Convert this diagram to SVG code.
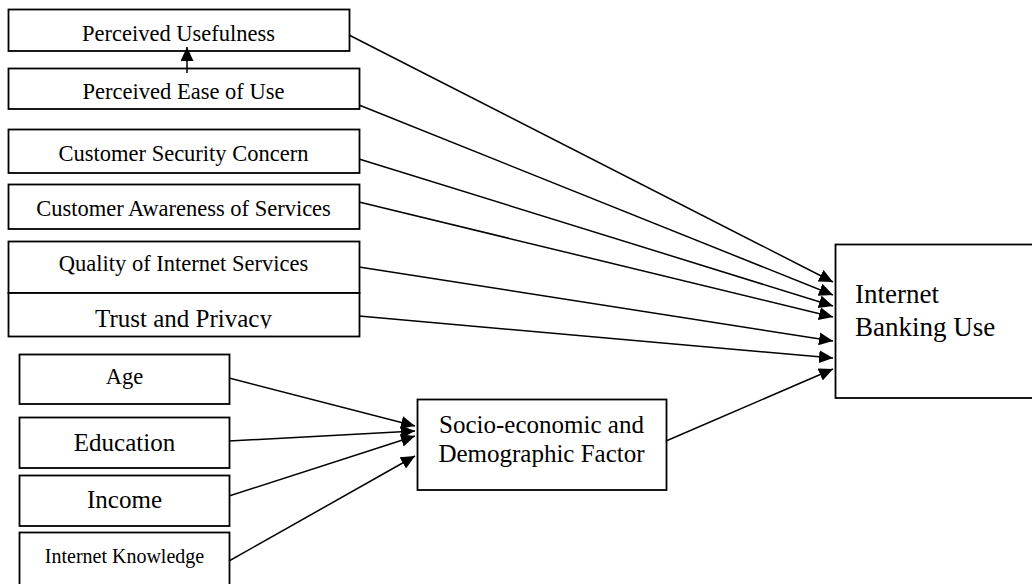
<svg xmlns="http://www.w3.org/2000/svg" width="1032" height="584" viewBox="0 0 1032 584">
  <style>
    .box { fill: #fff; stroke: #000; stroke-width: 1.8; }
    .lbl { font-family: "Liberation Serif", "Times New Roman", serif; fill: #000; text-anchor: middle; }
    .s22 { font-size: 22.5px; }
    .s25 { font-size: 25px; }
    .s20 { font-size: 20px; }
    .s27 { font-size: 27px; text-anchor: start; }
    .conn line { stroke: #000; stroke-width: 1.5; marker-end: url(#arrow); }
  </style>
  <defs>
    <marker id="arrow" viewBox="0 0 14 13" refX="14" refY="6.5" markerWidth="14" markerHeight="13" markerUnits="userSpaceOnUse" orient="auto">
      <path d="M0,0 L14,6.5 L0,13 z" fill="#000"/>
    </marker>
    <!-- the label frame cuts off the descender of the last word -->
    <clipPath id="trustClip"><rect x="8" y="293" width="351" height="35.5"/></clipPath>
  </defs>
  <rect width="1032" height="584" fill="#fff"/>

  <!-- factor boxes -->
  <g id="perceived-usefulness">
    <rect class="box" x="8.5" y="9.5" width="341" height="41.5"/>
    <text class="lbl s22" x="178.5" y="41">Perceived Usefulness</text>
  </g>
  <g id="perceived-ease-of-use">
    <rect class="box" x="8.5" y="68.5" width="351" height="40.5"/>
    <text class="lbl s22" x="183.5" y="99">Perceived Ease of Use</text>
  </g>
  <g id="customer-security-concern">
    <rect class="box" x="8.5" y="129.5" width="351" height="43.5"/>
    <text class="lbl s22" x="183.5" y="161">Customer Security Concern</text>
  </g>
  <g id="customer-awareness">
    <rect class="box" x="8.5" y="184.5" width="351" height="44.5"/>
    <text class="lbl s22" x="183.5" y="216">Customer Awareness of Services</text>
  </g>
  <g id="quality-of-internet-services">
    <rect class="box" x="8.5" y="241.5" width="351" height="51.5"/>
    <text class="lbl s22" x="183.5" y="271">Quality of Internet Services</text>
  </g>
  <g id="trust-and-privacy">
    <rect class="box" x="8.5" y="293" width="351" height="43.5"/>
    <text class="lbl s25" x="183.5" y="327" clip-path="url(#trustClip)">Trust and Privacy</text>
  </g>

  <!-- demographic inputs -->
  <g id="age">
    <rect class="box" x="19.5" y="354.5" width="210" height="49.5"/>
    <text class="lbl s22" x="124.5" y="384">Age</text>
  </g>
  <g id="education">
    <rect class="box" x="19.5" y="417.5" width="210" height="50.5"/>
    <text class="lbl s25" x="124.5" y="451">Education</text>
  </g>
  <g id="income">
    <rect class="box" x="19.5" y="475.5" width="210" height="50.5"/>
    <text class="lbl s25" x="124.5" y="508">Income</text>
  </g>
  <g id="internet-knowledge">
    <rect class="box" x="19.5" y="532.5" width="210" height="56"/>
    <text class="lbl s20" x="124.5" y="563">Internet Knowledge</text>
  </g>

  <g id="socio-economic">
    <rect class="box" x="417.5" y="399.5" width="249" height="90.5"/>
    <text class="lbl s25" x="541.5" y="433">Socio-economic and</text>
    <text class="lbl s25" x="541.5" y="462">Demographic Factor</text>
  </g>

  <g id="internet-banking-use">
    <rect class="box" x="835.5" y="244.5" width="210" height="153.5"/>
    <text class="lbl s27" x="855" y="303">Internet</text>
    <text class="lbl s27" x="855" y="336">Banking Use</text>
  </g>

  <!-- connectors -->
  <g class="conn" id="connectors">
    <line x1="187" y1="73" x2="187" y2="47"/>
    <line x1="349" y1="35" x2="833" y2="282"/>
    <line x1="359" y1="105" x2="833" y2="295"/>
    <line x1="359" y1="159" x2="833" y2="306"/>
    <line x1="359" y1="202" x2="833" y2="317"/>
    <line x1="359" y1="267" x2="833" y2="341"/>
    <line x1="359" y1="316" x2="833" y2="358"/>
    <line x1="666" y1="441" x2="833" y2="369"/>
    <line x1="229" y1="378" x2="415" y2="426"/>
    <line x1="229" y1="441" x2="415" y2="431"/>
    <line x1="229" y1="496" x2="415" y2="436"/>
    <line x1="229" y1="561" x2="415" y2="456"/>
  </g>
</svg>
